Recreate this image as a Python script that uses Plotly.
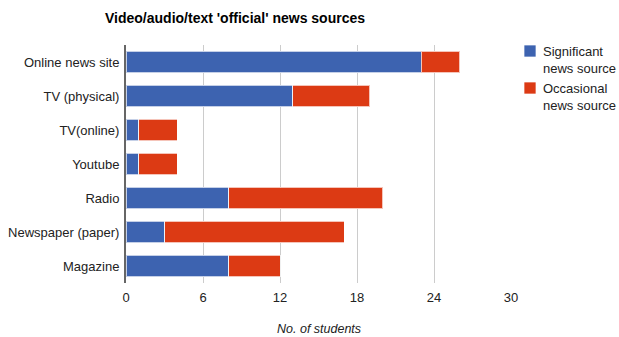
import plotly.graph_objects as go

# News source categories, listed top to bottom
sources = ["Online news site", "TV (physical)", "TV(online)", "Youtube",
           "Radio", "Newspaper (paper)", "Magazine"]

# Number of students per source
significant = [23, 13, 1, 1, 8, 3, 8]
occasional = [3, 6, 3, 3, 12, 14, 4]

series_names = ["Significant<br>news source", "Occasional<br>news source"]

x_ticks = [0, 6, 12, 18, 24, 30]

FONT = "Arial, Liberation Sans, sans-serif"
BLUE = "#3d63b0"
RED = "#dc3a14"
colors = [BLUE, RED]

W, H = 619, 337
M_L, M_R, M_T, M_B = 126, 108, 45, 54
PLOT_W = W - M_L - M_R
PLOT_H = H - M_T - M_B

fig = go.Figure()
for vals, name, col in zip([significant, occasional], series_names, colors):
    fig.add_trace(go.Bar(
        y=sources, x=vals, orientation="h", name=name,
        marker=dict(color=col, line=dict(color="rgba(255,255,255,0.7)", width=1)),
        showlegend=False,
    ))

fig.update_layout(
    width=W, height=H,
    margin=dict(l=M_L, r=M_R, t=M_T, b=M_B, pad=0, autoexpand=False),
    barmode="stack",
    bargap=0.38,
    plot_bgcolor="white",
    paper_bgcolor="white",
    font=dict(family=FONT, size=13, color="#222222"),
    title=dict(
        text="<b>Video/audio/text 'official' news sources</b>",
        font=dict(family=FONT, size=14, color="#000000"),
        x=105 / W, xanchor="left", xref="container",
        y=1 - 18 / H, yanchor="middle", yref="container",
    ),
)

fig.update_xaxes(
    range=[0, 30], tickvals=x_ticks, ticktext=[str(v) for v in x_ticks],
    showgrid=True, gridcolor="#cccccc", gridwidth=1,
    zeroline=False, showline=False, ticks="", ticklabelstandoff=5,
    tickfont=dict(family=FONT, size=13, color="#222222"),
    automargin=False, fixedrange=True,
)
fig.update_yaxes(
    autorange="reversed", showgrid=False, zeroline=False,
    showline=True, linecolor="#666666", linewidth=2,
    ticks="", ticklabelstandoff=2, automargin=False,
    tickfont=dict(family=FONT, size=13, color="#222222"),
)

# Axis title
fig.add_annotation(
    text="<i>No. of students</i>", xref="paper", yref="paper",
    x=0.5, y=-(329 - (H - M_B)) / PLOT_H, xanchor="center", yanchor="middle",
    showarrow=False, font=dict(family=FONT, size=12.5, color="#222222"),
)

# Legend drawn to the right of the plot: square swatch + two-line label
def px_x(px):
    return (px - M_L) / PLOT_W

def px_y(py):
    return (H - M_B - py) / PLOT_H

swatch_tops = [45, 82]
for top, name, col in zip(swatch_tops, series_names, colors):
    fig.add_shape(
        type="rect", xref="paper", yref="paper",
        x0=px_x(524), x1=px_x(536), y0=px_y(top), y1=px_y(top + 12),
        fillcolor=col, line=dict(color="rgba(255,255,255,0.7)", width=1),
    )
    fig.add_annotation(
        text=name, xref="paper", yref="paper",
        x=px_x(541), y=px_y(top - 3), xanchor="left", yanchor="top",
        align="left", showarrow=False,
        font=dict(family=FONT, size=13, color="#222222"),
    )

fig.write_html("out.html")
